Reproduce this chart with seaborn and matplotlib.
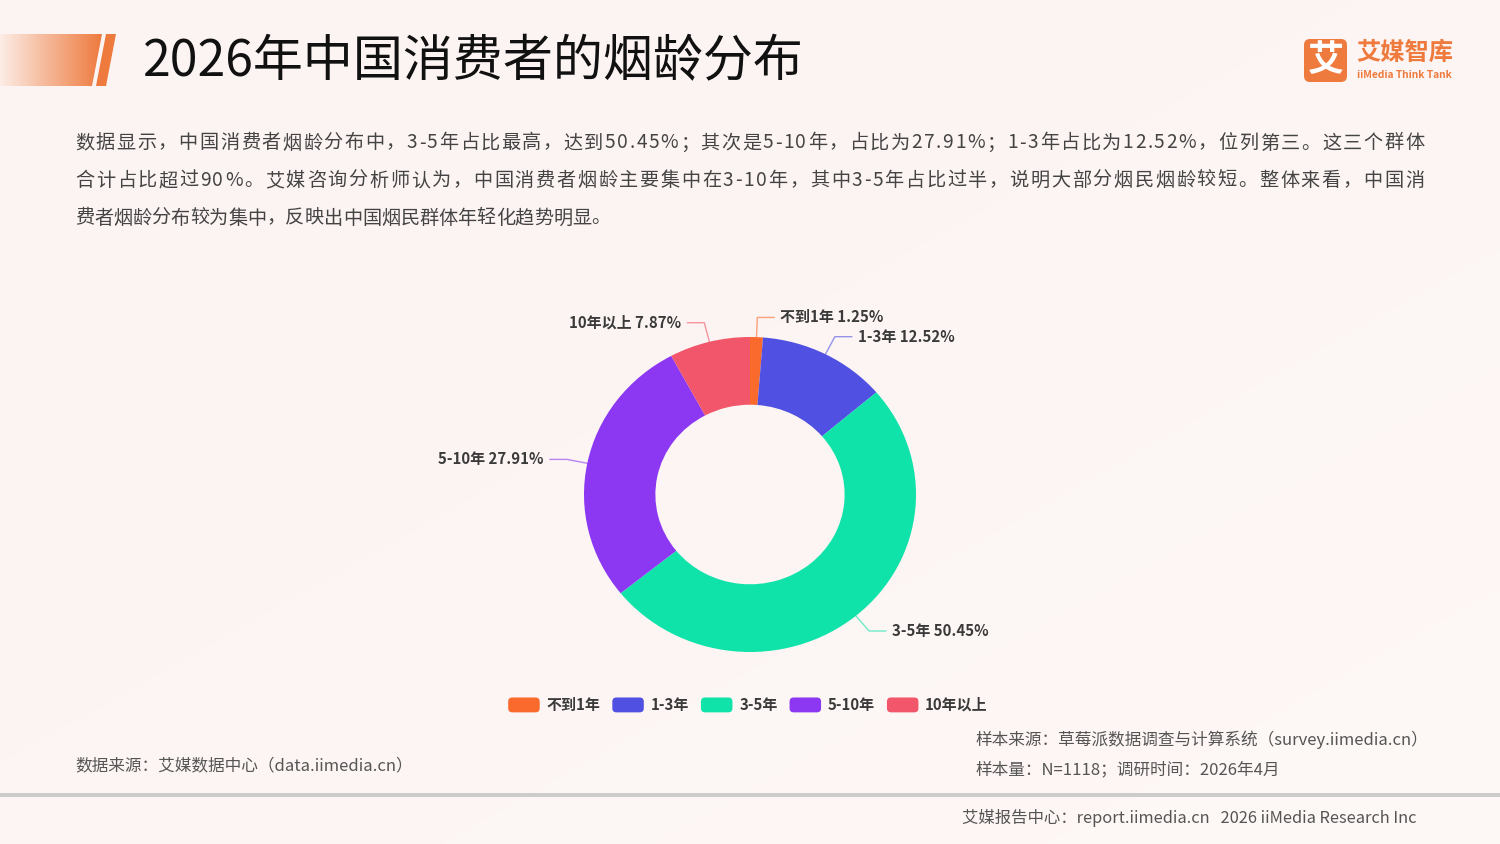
import numpy as np
import matplotlib
matplotlib.use("Agg")
import matplotlib.pyplot as plt
import seaborn as sns
from matplotlib.patches import Polygon, FancyBboxPatch, Patch, Rectangle
from matplotlib.legend_handler import HandlerPatch
from matplotlib.font_manager import FontProperties

sns.set_theme(style="white")
plt.rcParams['font.family'] = ['Noto Sans CJK SC', 'DejaVu Sans']

# ---------------- data ----------------
categories = ["不到1年", "1-3年", "3-5年", "5-10年", "10年以上"]
shares = [1.25, 12.52, 50.45, 27.91, 7.87]
colors = ["#FA6A2C", "#5050E2", "#10E3AA", "#8C38F2", "#F1566A"]
title = "2026年中国消费者的烟龄分布"
body_lines = [
    "数据显示，中国消费者烟龄分布中，3-5年占比最高，达到50.45%；其次是5-10年，占比为27.91%；1-3年占比为12.52%，位列第三。这三个群体",
    "合计占比超过90%。艾媒咨询分析师认为，中国消费者烟龄主要集中在3-10年，其中3-5年占比过半，说明大部分烟民烟龄较短。整体来看，中国消",
    "费者烟龄分布较为集中，反映出中国烟民群体年轻化趋势明显。",
]
source_left = "数据来源：艾媒数据中心（data.iimedia.cn）"
source_right1 = "样本来源：草莓派数据调查与计算系统（survey.iimedia.cn）"
source_right2 = "样本量：N=1118；调研时间：2026年4月"
footer = "艾媒报告中心：report.iimedia.cn   2026 iiMedia Research Inc"

W, H = 1500, 844
fig = plt.figure(figsize=(W / 100, H / 100), dpi=100)
fig.patch.set_facecolor("#FCF4F2")

# overlay axes in pixel coordinates
bg = fig.add_axes([0, 0, 1, 1])
bg.set_xlim(0, W)
bg.set_ylim(H, 0)
bg.axis("off")

# soft background gradient
grad = np.linspace(0, 1, 256)
gx, gy = np.meshgrid(grad, grad)
g = np.clip(0.6 * gx + 0.6 * gy - 0.3, 0, 1)
img = np.zeros((256, 256, 4))
img[..., 0] = 1.0
img[..., 1] = 0.985
img[..., 2] = 0.98
img[..., 3] = g * 0.6
bg.imshow(img, extent=[0, W, H, 0], aspect="auto", zorder=0)

# title bar gradient shape
bar = np.zeros((2, 256, 4))
c0 = np.array(matplotlib.colors.to_rgb("#FCEDE6"))
c1 = np.array(matplotlib.colors.to_rgb("#EE7A3E"))
for i, t in enumerate(np.linspace(0, 1, 256)):
    bar[:, i, :3] = c0 * (1 - t) + c1 * t
    bar[:, i, 3] = 1
im = bg.imshow(bar, extent=[0, 102, 86, 34], aspect="auto", zorder=2)
poly = Polygon([[0, 34], [102, 34], [92, 86], [0, 86]], closed=True, transform=bg.transData)
im.set_clip_path(poly)
bg.add_patch(Polygon([[106, 34], [116, 34], [106, 86], [96, 86]], closed=True,
                     facecolor="#EE7A3E", edgecolor="none", zorder=2))

bg.text(143, 62, title, fontsize=36, color="#111111", va="center", ha="left",
        fontweight="light", zorder=3)

# logo
bg.add_patch(FancyBboxPatch((1304, 39), 43, 43, boxstyle="round,pad=0,rounding_size=6",
                            facecolor="#EE7A3E", edgecolor="none", zorder=3))
bg.text(1325.5, 61, "艾", fontsize=26, color="white", ha="center", va="center",
        fontweight="bold", zorder=4)
bg.text(1356, 53, "艾媒智库", fontsize=17.5, color="#EE7A3E", ha="left", va="center",
        fontweight="bold", zorder=4)
bg.text(1357, 75, "iiMedia Think Tank", fontsize=7.4, color="#EE7A3E", ha="left",
        va="center", fontweight="bold", zorder=4)

# body text, justified per character
renderer = fig.canvas.get_renderer()
body_fs = 13.8
prop = FontProperties(family=['Noto Sans CJK SC', 'DejaVu Sans'], size=body_fs)
left_x, right_x = 75, 1424
for i, line in enumerate(body_lines):
    widths = []
    for ch in line:
        w_, _, _ = renderer.get_text_width_height_descent(ch, prop, ismath=False)
        widths.append(w_)
    natural = sum(widths)
    justify = i < len(body_lines) - 1
    extra = (right_x - left_x - natural) / (len(line) - 1) if justify else 0.0
    x = left_x
    for ch, w_ in zip(line, widths):
        bg.text(x, 143 + i * 37.5, ch, fontproperties=prop, color="#444444",
                ha="left", va="center", zorder=3)
        x += w_ + extra

# bottom sources
bg.text(75, 766, source_left, fontsize=12, color="#555555", ha="left", va="center")
bg.text(975, 740, source_right1, fontsize=12, color="#555555", ha="left", va="center")
bg.text(975, 770, source_right2, fontsize=12, color="#555555", ha="left", va="center")
bg.add_patch(Rectangle((0, 793), W, 4, facecolor="#CCCCCC", edgecolor="none"))
bg.text(1417, 818, footer, fontsize=11.8, color="#555555", ha="right", va="center")

# ---------------- donut ----------------
cx, cy = 750, 494.5          # centre (px)
sx, sy = 166.0, 157.5        # px per unit radius (horizontal / vertical)
half = 400
ax = fig.add_axes([(cx - half) / W, (H - cy - half) / H, 2 * half / W, 2 * half / H])
ax.set_facecolor("none")
wedges, _ = ax.pie(shares, colors=colors, startangle=90, counterclock=False,
                   radius=1.0, wedgeprops=dict(width=0.43, edgecolor="none"))
ax.set_xlim(-half / sx, half / sx)
ax.set_ylim(-half / sy, half / sy)
ax.set_aspect("auto")
ax.axis("off")

for w, cat, val, col in zip(wedges, categories, shares, colors):
    ang = np.deg2rad((w.theta1 + w.theta2) / 2)
    x0, y0 = 1.0 * np.cos(ang), 1.0 * np.sin(ang)
    r1 = 1.125
    x1, y1 = r1 * np.cos(ang), r1 * np.sin(ang)
    side = 1 if np.cos(ang) >= 0 else -1
    x2 = x1 + side * 17 / sx
    ax.plot([x0, x1, x2], [y0, y1, y1], color=col, lw=1.0, alpha=0.6,
            solid_capstyle="round", clip_on=False)
    ax.text(x2 + side * 6 / sx, y1, f"{cat} {val:.2f}%", fontsize=10.8, color="#3a3a3a",
            ha="left" if side > 0 else "right", va="center", fontweight="bold")


class RoundHandler(HandlerPatch):
    def create_artists(self, legend, orig_handle, xdescent, ydescent, width, height,
                       fontsize, trans):
        p = FancyBboxPatch((-xdescent, -ydescent), width, height,
                           boxstyle="round,pad=0,rounding_size=3",
                           facecolor=orig_handle.get_facecolor(), edgecolor="none",
                           transform=trans)
        return [p]


handles = [Patch(facecolor=c, edgecolor="none", label=l) for c, l in zip(colors, categories)]
fig.legend(handles=handles, loc="center", bbox_to_anchor=(748 / W, 1 - 705 / H), ncol=5,
           frameon=False, handlelength=2.1, handleheight=1.15,
           columnspacing=0.8, handletextpad=0.45, labelcolor="#3a3a3a",
           prop=dict(size=10.8, weight="bold"),
           handler_map={Patch: RoundHandler()})

fig.savefig("out.png", dpi=100, facecolor=fig.get_facecolor())
